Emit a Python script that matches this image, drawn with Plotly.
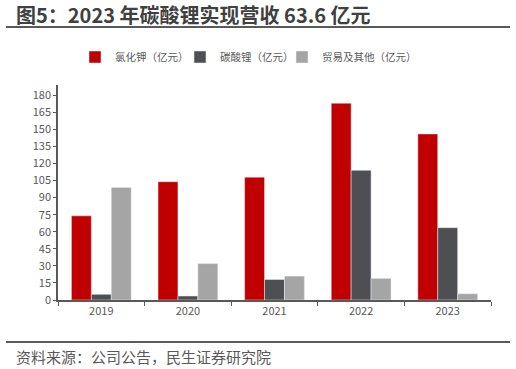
import plotly.graph_objects as go

years = ["2019", "2020", "2021", "2022", "2023"]
kcl = [74, 104, 108, 173, 146]
li2co3 = [5, 3.5, 18, 114, 63.6]
trade = [99, 32, 21, 19, 5.5]
y_ticks = list(range(0, 181, 15))

font = "Noto Sans CJK SC"
fig = go.Figure()
fig.add_bar(x=years, y=kcl, name="氯化钾（亿元）", marker_color="#C00000", legend="legend")
fig.add_bar(x=years, y=li2co3, name="碳酸锂（亿元）", marker_color="#4D4F53", legend="legend2")
fig.add_bar(x=years, y=trade, name="贸易及其他（亿元）", marker_color="#A5A5A5", legend="legend3")

PW, PH = 433, 215
leg_common = dict(orientation="h", xanchor="left", y=1 + 28/PH, yanchor="middle",
                  font=dict(size=10.5, color="#595959"), itemwidth=30,
                  bgcolor="rgba(0,0,0,0)")
fig.update_layout(
    width=516, height=369,
    margin=dict(l=58, r=25, t=85, b=69, autoexpand=False),
    paper_bgcolor="white", plot_bgcolor="white",
    barmode="group", bargap=0.31, bargroupgap=0,
    font=dict(family=font, color="#595959", size=11),
    showlegend=True,
    legend=dict(x=(75 - 58)/PW, **leg_common),
    legend2=dict(x=(180 - 58)/PW, **leg_common),
    legend3=dict(x=(282 - 58)/PW, **leg_common),
    xaxis=dict(type="category", showline=True, linecolor="#595959", linewidth=1.5,
               ticks="outside", tickson="boundaries", ticklen=4, tickcolor="#595959",
               tickfont=dict(size=11, color="#595959"), showgrid=False),
    yaxis=dict(range=[0, 189], tickvals=y_ticks, showline=True, linecolor="#595959",
               linewidth=1.5, ticks="outside", ticklen=3, tickcolor="#595959",
               showgrid=False, zeroline=False, tickfont=dict(size=11, color="#595959")),
)

fig.add_annotation(text="<b>图5：2023 年碳酸锂实现营收 63.6 亿元</b>", xref="paper", yref="paper",
                   x=-44/PW, y=1 + 70/PH, xanchor="left", yanchor="middle",
                   showarrow=False, font=dict(family=font, size=20, color="#404040"))
fig.add_annotation(text="资料来源：公司公告，民生证券研究院", xref="paper", yref="paper",
                   x=-44/PW, y=-56/PH, xanchor="left", yanchor="middle",
                   showarrow=False, font=dict(family=font, size=15, color="#595959"))
fig.add_shape(type="line", xref="paper", yref="paper", x0=-52/PW, x1=452/PW,
              y0=1 + 58/PH, y1=1 + 58/PH, line=dict(color="#595959", width=2))
fig.add_shape(type="line", xref="paper", yref="paper", x0=-52/PW, x1=452/PW,
              y0=-42/PH, y1=-42/PH, line=dict(color="#595959", width=2))

fig.write_html("out.html", config={"displayModeBar": False},
               post_script="document.body.style.margin='0';document.body.style.overflow='hidden';")
